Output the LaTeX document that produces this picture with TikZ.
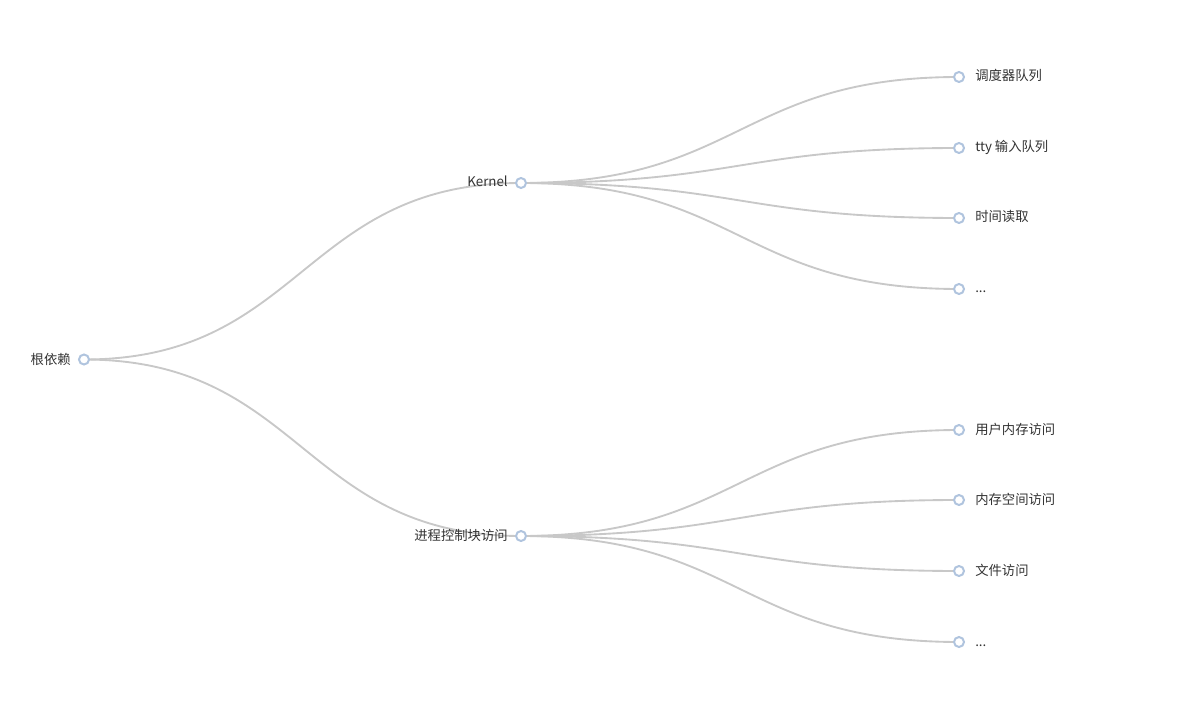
\documentclass[tikz,border=0pt]{standalone}
\usepackage{fontspec}
\setmainfont{Noto Sans CJK SC}
\usetikzlibrary{backgrounds,calc}

\definecolor{edgegray}{HTML}{C8C8C8}
\definecolor{dotblue}{HTML}{B0C4DE}
\definecolor{labelgray}{HTML}{333333}

\tikzset{
  dot/.style={circle, draw=dotblue, line width=1.5pt, fill=white,
    inner sep=0pt, minimum size=7.5pt},
  branch/.style={draw=edgegray, line width=1.4pt},
  lbl/.style={font=\fontsize{10pt}{12pt}\selectfont, text=labelgray, inner sep=0pt}
}

\newcommand{\treeedge}[2]{%
  \path let \p1=(#1.center), \p2=(#2.center) in
    [branch] (\p1) .. controls ({(\x1+\x2)/2},\y1) and ({(\x1+\x2)/2},\y2) .. (\p2);}

\begin{document}
\begin{tikzpicture}[x=0.75pt, y=-0.75pt]
  \useasboundingbox (0,0) rectangle (1200,720);

  % root and middle level
  \node[dot] (root) at (84,359.5) {};
  \node[dot] (kernel) at (521,183) {};
  \node[dot] (pcb) at (521,536) {};

  % leaves
  \node[dot] (sched) at (959,77) {};
  \node[dot] (tty) at (959,148) {};
  \node[dot] (time) at (959,218) {};
  \node[dot] (kmore) at (959,289) {};
  \node[dot] (umem) at (959,430) {};
  \node[dot] (mspace) at (959,500) {};
  \node[dot] (file) at (959,571) {};
  \node[dot] (pmore) at (959,642) {};

  % labels
  \node[lbl, anchor=base east] at (71,364) {根依赖};
  \node[lbl, anchor=base east] at (508,187) {Kernel};
  \node[lbl, anchor=base east] at (508,540) {进程控制块访问};
  \node[lbl, anchor=base west] at (975,81) {调度器队列};
  \node[lbl, anchor=base west] at (975,152) {tty 输入队列};
  \node[lbl, anchor=base west] at (975,222) {时间读取};
  \node[lbl, anchor=base west] at (975,293) {...};
  \node[lbl, anchor=base west] at (975,434) {用户内存访问};
  \node[lbl, anchor=base west] at (975,504) {内存空间访问};
  \node[lbl, anchor=base west] at (975,575) {文件访问};
  \node[lbl, anchor=base west] at (975,646) {...};

  % edges behind the dots
  \begin{scope}[on background layer]
    \treeedge{root}{kernel}
    \treeedge{root}{pcb}
    \treeedge{kernel}{sched}
    \treeedge{kernel}{tty}
    \treeedge{kernel}{time}
    \treeedge{kernel}{kmore}
    \treeedge{pcb}{umem}
    \treeedge{pcb}{mspace}
    \treeedge{pcb}{file}
    \treeedge{pcb}{pmore}
  \end{scope}
\end{tikzpicture}
\end{document}
